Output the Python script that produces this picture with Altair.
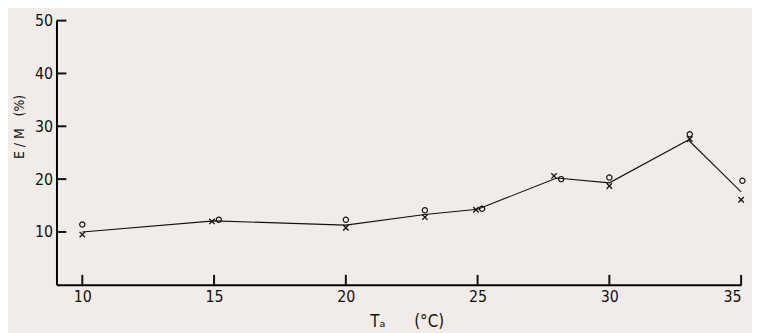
import altair as alt
import pandas as pd

# Data
temps = [10, 15, 20, 23, 25, 28, 30, 33, 35]
line_y = [10.0, 12.1, 11.3, 13.3, 14.3, 20.2, 19.3, 27.4, 17.6]

circle_x = [10, 15.18, 20, 23, 25.17, 28.17, 30, 33.05, 35.05]
circle_y = [11.4, 12.3, 12.3, 14.1, 14.4, 20.0, 20.3, 28.5, 19.7]

cross_x = [10, 14.92, 20, 23, 24.94, 27.9, 30, 33.05, 35]
cross_y = [9.5, 12.0, 10.8, 12.8, 14.2, 20.6, 18.7, 27.6, 16.1]

x_ticks = [10, 15, 20, 25, 30, 35]
y_ticks = [10, 20, 30, 40, 50]

NB = "\u00a0"
x_title = "T" + "\u2090" + NB * 6 + "(°C)"
y_title = "E" + NB + "/" + NB + "M" + NB * 3 + "(%)"

W, H = 692, 267
FONT = "DejaVu Sans Condensed, Liberation Sans Narrow, DejaVu Sans"

line_df = pd.DataFrame({"t": temps, "v": line_y})
circ_df = pd.DataFrame({"t": circle_x, "v": circle_y})
cross_df = pd.DataFrame({"t": cross_x, "v": cross_y})
xt_df = pd.DataFrame({"t": x_ticks})
yt_df = pd.DataFrame({"v": y_ticks})

xscale = alt.Scale(domain=[9.02, 35], nice=False, zero=False)
yscale = alt.Scale(domain=[0, 50], nice=False)

xaxis = alt.Axis(
    values=x_ticks, title=x_title, grid=False, ticks=False, tickSize=0,
    labelPadding=4, domainColor="black", domainWidth=2,
    labelFont=FONT, labelFontSize=16, labelColor="#111",
    titleFont=FONT, titleFontSize=17, titleFontWeight="normal", titleColor="#111",
    titleX=354, titleY=42, titleBaseline="alphabetic",
)
yaxis = alt.Axis(
    values=y_ticks, title=y_title, grid=False, ticks=False, tickSize=0,
    labelPadding=4, domainColor="black", domainWidth=2,
    labelFont=FONT, labelFontSize=16, labelColor="#111",
    titleFont=FONT, titleFontSize=14, titleFontWeight="normal", titleColor="#111",
    titleX=-33, titleY=107, titleBaseline="alphabetic", titleAngle=270,
)

line = alt.Chart(line_df).mark_line(color="#111", strokeWidth=1.1).encode(
    x=alt.X("t:Q", scale=xscale, axis=xaxis),
    y=alt.Y("v:Q", scale=yscale, axis=yaxis),
)

circles = alt.Chart(circ_df).mark_point(
    shape="circle", size=28, filled=False, color="#111", strokeWidth=1.2, opacity=1
).encode(x=alt.X("t:Q", scale=xscale), y=alt.Y("v:Q", scale=yscale))

crosses = alt.Chart(cross_df).mark_point(
    shape="M-1,-1L1,1M1,-1L-1,1", size=30, filled=False, color="#111",
    strokeWidth=1.3, opacity=1
).encode(x=alt.X("t:Q", scale=xscale), y=alt.Y("v:Q", scale=yscale))

xt = alt.Chart(xt_df).mark_rule(color="#111", strokeWidth=2).encode(
    x=alt.X("t:Q", scale=xscale), y=alt.value(H), y2=alt.value(H - 10)
)
yt = alt.Chart(yt_df).mark_rule(color="#111", strokeWidth=2).encode(
    y=alt.Y("v:Q", scale=yscale), x=alt.value(0), x2=alt.value(10)
)

chart = alt.layer(line, circles, crosses, xt, yt).properties(
    width=W, height=H,
    autosize=alt.AutoSizeParams(type="none"),
    padding={"left": 49, "top": 11, "right": 11, "bottom": 50},
    background="#f1ece7",
).configure_view(stroke=None)

chart.save("out.html", embed_options={"renderer": "svg", "actions": False})
